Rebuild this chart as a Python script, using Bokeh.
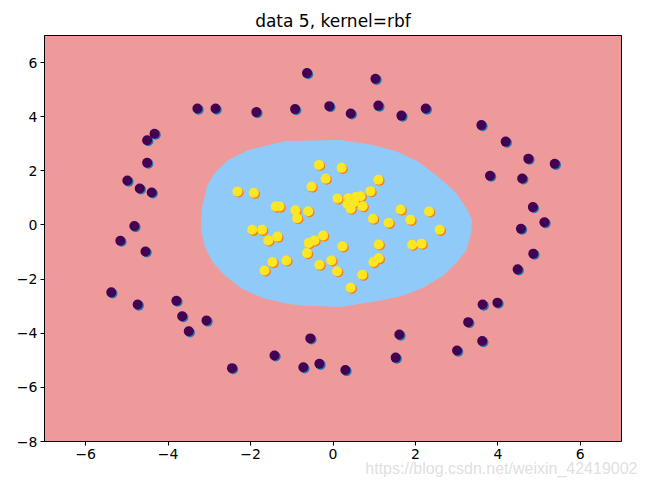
from bokeh.plotting import figure
from bokeh.models import ColumnDataSource, FixedTicker, Title
from bokeh.transform import dodge
from bokeh.embed import file_html
from bokeh.resources import INLINE

# ---- data ----
class0_x = [-0.63, 1.03, -3.29, -2.85, -1.86, -0.92, -0.09, 0.43, 1.10, 1.66, 2.25, 3.60, 4.19,
            -4.33, -4.51, -4.51, -4.99, -4.69, -4.40, 4.74, 5.38, 3.81, 4.59, 4.85, 5.13, 4.56,
            -4.82, -5.16, -4.55, 4.86, 4.48, -5.38, -4.74, -3.80, -3.66, -3.07, -3.50, -2.45,
            -1.42, -0.55, -0.72, -0.33, 0.30, 1.52, 1.61, 3.01, 3.28, 3.63, 3.99, 3.62]
class0_y = [5.61, 5.40, 4.30, 4.30, 4.17, 4.28, 4.39, 4.12, 4.41, 4.04, 4.30, 3.69, 3.08,
            3.37, 3.13, 2.30, 1.64, 1.35, 1.20, 2.45, 2.26, 1.82, 1.72, 0.66, 0.10, -0.14,
            -0.04, -0.58, -0.98, -1.06, -1.64, -2.49, -2.94, -2.80, -3.37, -3.53, -3.93, -5.29,
            -4.82, -4.19, -5.26, -5.13, -5.36, -4.90, -4.05, -4.64, -3.59, -2.94, -2.87, -4.29]

class1_x = [-0.34, 0.21, -0.18, -0.52, 0.11, -2.32, -1.92, -1.39, -1.30, -0.91, -0.60, -0.87,
            1.10, 0.91, 0.37, 0.55, 0.67, 0.35, 0.51, 0.43, 0.72, 1.64, 0.97, 1.35, 1.88, 2.33,
            -1.96, -1.72, -1.57, -1.35, -0.59, -0.45, -0.24, -0.63, -1.47, -1.13, -1.66, -0.33,
            -0.04, 0.10, 0.23, 2.59, 1.11, 1.92, 2.15, 1.11, 0.98, 0.71, 0.43]
class1_y = [2.22, 2.11, 1.71, 1.42, 0.98, 1.24, 1.19, 0.68, 0.68, 0.54, 0.51, 0.25,
            1.67, 1.25, 0.99, 1.03, 1.06, 0.78, 0.84, 0.60, 0.69, 0.57, 0.23, 0.08, 0.19, 0.50,
            -0.18, -0.18, -0.57, -0.43, -0.67, -0.57, -0.39, -1.04, -1.37, -1.31, -1.68, -1.47,
            -1.31, -1.71, -0.79, -0.18, -0.72, -0.73, -0.69, -1.23, -1.37, -1.84, -2.32]

# decision region (class 1) boundary
boundary_x = [0.18, -1.15, -2.05, -2.54, -2.85, -3.04, -3.17, -3.19, -3.17, -3.09, -2.90, -2.61,
              -2.20, -1.71, -1.08, -0.67, 0.18, 1.10, 1.69, 2.17, 2.66, 2.97, 3.22, 3.34, 3.36,
              3.26, 2.97, 2.56, 2.08, 1.52, 0.96]
boundary_y = [3.12, 3.08, 2.75, 2.38, 1.94, 1.46, 0.61, -0.02, -0.31, -0.83, -1.39, -1.87,
              -2.35, -2.68, -2.90, -2.97, -3.01, -2.79, -2.60, -2.31, -1.87, -1.42, -0.94, -0.31, 0.17,
              0.54, 1.20, 1.75, 2.31, 2.71, 2.94]

x_ticks = [-6, -4, -2, 0, 2, 4, 6]
x_tick_labels = ["\u22126", "\u22124", "\u22122", "0", "2", "4", "6"]
y_ticks = [-8, -6, -4, -2, 0, 2, 4, 6]
y_tick_labels = ["\u22128", "\u22126", "\u22124", "\u22122", "0", "2", "4", "6"]
x_range = (-7, 7)
y_range = (-8, 7)
title_text = "data 5, kernel=rbf"
watermark = "https://blog.csdn.net/weixin_42419002"

FONT = "DejaVu Sans"

p = figure(frame_width=577, frame_height=406, x_range=x_range, y_range=y_range,
           output_backend="svg", toolbar_location=None,
           min_border_left=44, min_border_right=20, min_border_top=35, min_border_bottom=38,
           title=title_text)
p.background_fill_color = "#EF9A9A"
p.border_fill_color = "white"
p.grid.visible = False
p.outline_line_color = "black"
p.outline_line_width = 1
p.outline_line_alpha = 1

p.title.align = "center"
p.title.text_font = FONT
p.title.text_font_size = "17px"
p.title.text_font_style = "normal"
p.title.text_color = "black"

for ax, ticks, labels in ((p.xaxis[0], x_ticks, x_tick_labels), (p.yaxis[0], y_ticks, y_tick_labels)):
    ax.ticker = FixedTicker(ticks=ticks)
    ax.major_label_overrides = {t: l for t, l in zip(ticks, labels)}
    ax.major_tick_in = 0
    ax.major_tick_out = 4
    ax.minor_tick_line_color = None
    ax.major_label_text_font = FONT
    ax.major_label_text_font_size = "14px"
    ax.major_label_text_color = "black"
    ax.axis_line_color = "black"
    ax.major_tick_line_color = "black"
    ax.major_label_standoff = 3

p.patch(boundary_x, boundary_y, fill_color="#90CAF9", line_color="#90CAF9", line_width=1)

s0 = ColumnDataSource(dict(x=class0_x, y=class0_y))
s1 = ColumnDataSource(dict(x=class1_x, y=class1_y))
# faint offset edge seen under the dots
p.scatter(x=dodge("x", 0.03, range=p.x_range), y=dodge("y", -0.04, range=p.y_range), source=s0,
          size=10, fill_color="#1f77b4", line_color=None)
p.scatter(x=dodge("x", 0.03, range=p.x_range), y=dodge("y", -0.04, range=p.y_range), source=s1,
          size=10, fill_color="#ff7f0e", line_color=None)
p.scatter("x", "y", source=s0, size=10, fill_color="#440154", line_color=None)
p.scatter("x", "y", source=s1, size=10, fill_color="#FDE725", line_color=None)

wm = Title(text=watermark, align="right", offset=-16, standoff=-7,
           text_font="Liberation Sans", text_font_size="16px", text_font_style="normal",
           text_color="#dcdcdc", text_alpha=0.9)
p.add_layout(wm, "below")

open("out.html", "w").write(file_html(p, INLINE))
